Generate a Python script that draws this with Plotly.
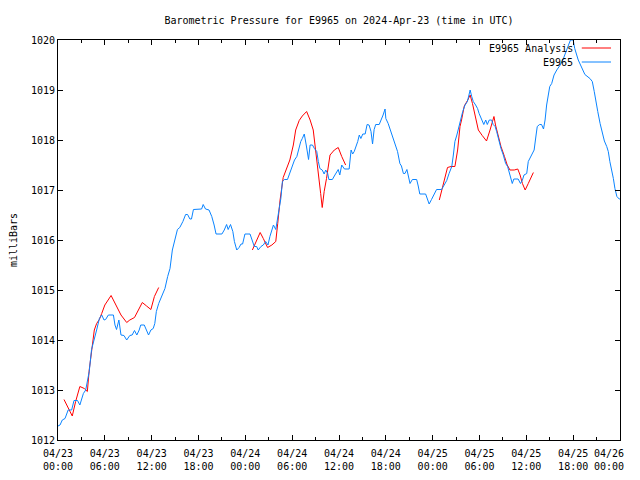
import pandas as pd
import plotly.graph_objects as go

START = "2024-04-23 00:00"
END = "2024-04-26 00:00"

# E9965 observed (hours since 2024-04-23 00:00 UTC, milliBars)
obs_hours = [0.0, 0.26, 0.55, 0.9, 1.3, 1.75, 2.05, 2.5, 2.8, 3.25, 3.55, 3.75, 4.0, 4.3, 4.6, 4.95,
             5.3, 5.6, 5.9, 6.1, 6.45, 7.1, 7.3, 7.5, 7.8, 8.07, 8.45, 8.8, 9.2, 9.5, 9.8, 10.1,
             10.4, 10.6, 11.05, 11.6, 11.9, 12.2, 12.4, 12.6, 12.9, 13.3, 13.7, 14.05, 14.35, 14.65,
             15.0, 15.3, 15.6, 16.0, 16.35, 16.6, 16.9, 17.1, 17.35, 18.4, 18.6, 18.9, 19.35, 19.7,
             20.0, 20.25, 21.0, 21.3, 21.6, 21.8, 22.1, 22.4, 22.6, 22.9, 23.2, 23.45, 23.65, 23.95,
             24.6, 24.9, 25.15, 25.45, 25.65, 26.0, 26.3, 26.6, 26.9, 27.15, 27.4, 27.6, 27.9, 28.15,
             28.35, 28.55, 28.75, 29.0, 29.4, 29.7, 30.0, 30.3, 30.6, 30.9, 31.1, 31.3, 31.55, 31.8,
             32.0, 32.1, 32.3, 32.6, 32.85, 33.15, 33.35, 33.55, 33.85, 34.1, 34.3, 34.55, 34.7,
             35.15, 35.4, 35.7, 35.9, 36.1, 36.35, 36.7, 37.3, 37.55, 37.75, 37.95, 38.2, 38.4, 38.6,
             38.8, 39.05, 39.35, 39.6, 39.85, 40.1, 40.3, 40.5, 40.7, 41.15, 41.4, 41.65, 41.9, 42.0,
             42.3, 42.65, 42.95, 43.25, 43.5, 43.8, 44.0, 44.25, 44.45, 44.7, 44.9, 45.1, 45.4, 45.95,
             46.15, 46.35, 47.1, 47.35, 47.55, 47.85, 48.2, 48.5, 49.15, 49.45, 49.8, 50.1, 50.45,
             50.65, 50.85, 51.1, 51.4, 51.6, 51.85, 52.15, 52.45, 52.65, 52.8, 53.0, 53.2, 53.5,
             53.75, 53.95, 54.25, 54.55, 54.8, 55.0, 55.25, 55.55, 55.75, 56.0, 56.2, 56.5, 56.75,
             57.05, 57.35, 57.6, 57.9, 58.2, 58.4, 58.95, 59.25, 59.5, 59.7, 60.05, 60.25, 60.45,
             60.75, 61.0, 61.25, 61.4, 61.7, 61.95, 62.2, 62.4, 62.6, 62.8, 63.0, 63.25, 63.55, 63.9,
             64.3, 64.75, 65.15, 65.5, 65.65, 66.0, 66.2, 66.65, 67.0, 67.3, 67.5, 68.15, 68.45, 68.7,
             68.9, 69.15, 69.45, 69.75, 70.0, 70.3, 70.5, 70.7, 70.9, 71.15, 71.35, 71.6, 71.9, 72.0]
obs_mb = [1012.28, 1012.30, 1012.40, 1012.43, 1012.60, 1012.60, 1012.79, 1012.79, 1012.70, 1012.93,
          1013.00, 1013.20, 1013.37, 1013.81, 1013.97, 1014.20, 1014.43, 1014.50, 1014.40, 1014.41,
          1014.50, 1014.50, 1014.30, 1014.21, 1014.40, 1014.10, 1014.09, 1014.00, 1014.09, 1014.10,
          1014.19, 1014.10, 1014.20, 1014.30, 1014.30, 1014.10, 1014.20, 1014.23, 1014.33, 1014.57,
          1014.73, 1014.87, 1015.03, 1015.27, 1015.43, 1015.80, 1016.00, 1016.21, 1016.25, 1016.37,
          1016.51, 1016.51, 1016.42, 1016.42, 1016.61, 1016.62, 1016.71, 1016.62, 1016.60, 1016.47,
          1016.30, 1016.12, 1016.12, 1016.20, 1016.31, 1016.21, 1016.31, 1016.17, 1015.97, 1015.80,
          1015.85, 1015.92, 1015.92, 1016.12, 1016.12, 1015.97, 1015.87, 1015.87, 1015.80, 1015.87,
          1015.90, 1015.97, 1015.90, 1016.07, 1016.21, 1016.30, 1016.21, 1016.43, 1016.63, 1016.83,
          1017.17, 1017.21, 1017.21, 1017.33, 1017.45, 1017.60, 1017.67, 1017.87, 1017.97, 1018.03,
          1018.12, 1017.90, 1017.73, 1017.61, 1017.90, 1017.90, 1017.83, 1017.77, 1017.57, 1017.43,
          1017.40, 1017.32, 1017.40, 1017.33, 1017.21, 1017.21, 1017.28, 1017.37, 1017.41, 1017.30,
          1017.50, 1017.42, 1017.42, 1017.80, 1017.72, 1017.77, 1017.87, 1017.97, 1018.10, 1018.03,
          1018.12, 1018.12, 1018.31, 1018.30, 1018.17, 1017.92, 1018.21, 1018.31, 1018.31, 1018.40,
          1018.50, 1018.62, 1018.43, 1018.33, 1018.17, 1018.03, 1017.90, 1017.77, 1017.53, 1017.48,
          1017.33, 1017.33, 1017.41, 1017.27, 1017.13, 1017.21, 1017.21, 1017.08, 1016.92, 1016.92,
          1016.80, 1016.72, 1016.81, 1016.92, 1017.01, 1017.01, 1017.10, 1017.19, 1017.33, 1017.47,
          1017.70, 1017.97, 1018.10, 1018.30, 1018.40, 1018.57, 1018.70, 1018.77, 1018.90, 1019.00,
          1018.87, 1018.77, 1018.70, 1018.63, 1018.53, 1018.40, 1018.31, 1018.40, 1018.31, 1018.40,
          1018.40, 1018.31, 1018.27, 1018.17, 1017.97, 1017.83, 1017.70, 1017.53, 1017.47, 1017.27,
          1017.13, 1017.22, 1017.22, 1017.13, 1017.20, 1017.30, 1017.33, 1017.57, 1017.63, 1017.70,
          1017.80, 1018.10, 1018.27, 1018.31, 1018.31, 1018.22, 1018.40, 1018.70, 1018.90, 1019.07,
          1019.13, 1019.30, 1019.40, 1019.49, 1019.63, 1019.80, 1019.93, 1020.00, 1020.00, 1019.83,
          1019.60, 1019.47, 1019.35, 1019.31, 1019.23, 1019.17, 1018.97, 1018.77, 1018.57, 1018.33,
          1018.10, 1017.98, 1017.87, 1017.77, 1017.57, 1017.43, 1017.23, 1017.03, 1016.87, 1016.82,
          1016.82]

# E9965 Analysis (three runs, separated by gaps)
ana_hours = [0.77, 1.3, 1.83, 2.26, 2.8, 3.37, 3.76, 4.0, 4.3, 4.65, 4.95, 5.3, 5.6, 6.0, 6.8, 7.4,
             8.07, 8.8, 9.2, 9.8, 10.3, 10.8, 11.35, 11.9, 12.35, 12.9, None,
             24.9, 25.35, 25.9, 26.3, 26.85, 27.4, 27.9, 28.15, 28.45, 28.85, 29.3, 29.7, 30.15,
             30.45, 30.9, 31.3, 31.85, 32.3, 32.7, 33.0, 33.4, 33.65, 33.85, 34.1, 34.4, 34.85,
             35.4, 35.9, 36.35, 36.85, None,
             48.85, 49.15, 49.6, 49.9, 50.35, 50.85, 51.2, 51.5, 51.7, 52.05, 52.5, 52.8, 53.1,
             53.4, 53.85, 54.35, 54.9, 55.35, 55.85, 56.05, 56.4, 56.75, 57.2, 57.55, 57.9, 58.45,
             58.9, 59.2, 59.5, 59.85, 60.25, 60.6, 60.9]
ana_mb = [1012.81, 1012.63, 1012.48, 1012.77, 1013.07, 1013.03, 1012.97, 1013.40, 1013.73, 1014.20,
          1014.33, 1014.41, 1014.53, 1014.70, 1014.89, 1014.70, 1014.50, 1014.35, 1014.40, 1014.45,
          1014.60, 1014.75, 1014.68, 1014.61, 1014.87, 1015.05, None,
          1015.80, 1015.97, 1016.15, 1016.03, 1015.85, 1015.90, 1015.97, 1016.33, 1016.80, 1017.25,
          1017.43, 1017.60, 1017.90, 1018.20, 1018.39, 1018.48, 1018.57, 1018.40, 1018.20, 1017.83,
          1017.30, 1016.93, 1016.65, 1016.97, 1017.23, 1017.70, 1017.80, 1017.85, 1017.67, 1017.50,
          None,
          1016.80, 1017.00, 1017.25, 1017.45, 1017.47, 1017.47, 1017.80, 1018.27, 1018.40, 1018.68,
          1018.80, 1018.90, 1018.73, 1018.51, 1018.20, 1018.09, 1017.98, 1018.20, 1018.47, 1018.30,
          1018.10, 1017.87, 1017.67, 1017.50, 1017.40, 1017.40, 1017.42, 1017.30, 1017.13, 1017.00,
          1017.13, 1017.25, 1017.35]

RED = "#ff0000"
BLUE = "#0a84ff"
FONT = "DejaVu Sans Mono"

t0 = pd.Timestamp(START)


def to_time(hours):
    return [None if h is None else t0 + pd.Timedelta(hours=h) for h in hours]


# 6-hourly major tick labels, two lines; the edge label is drawn separately, pulled inside
tick_times = pd.date_range(START, END, freq="6h")
tick_text = [t.strftime("%m/%d<br>%H:%M") for t in tick_times]
edge_label = tick_text[-1]
tick_text[-1] = ""

fig = go.Figure()
fig.add_trace(go.Scatter(x=to_time(ana_hours), y=ana_mb, mode="lines", name="E9965 Analysis",
                         line=dict(color=RED, width=1), connectgaps=False))
fig.add_trace(go.Scatter(x=to_time(obs_hours), y=obs_mb, mode="lines", name="E9965",
                         line=dict(color=BLUE, width=1)))

axis_common = dict(showline=True, linecolor="black", linewidth=1, mirror="allticks",
                   ticks="inside", tickcolor="black", showgrid=False, zeroline=False,
                   automargin=False, tickfont=dict(family=FONT, size=10, color="black"))

fig.update_xaxes(type="date", range=[START, END],
                 tickmode="array", tickvals=list(tick_times), ticktext=tick_text,
                 ticklen=5, ticklabelstandoff=4,
                 minor=dict(tickmode="linear", tick0=START, dtick=3 * 3600 * 1000,
                            ticks="inside", ticklen=3, tickcolor="black", showgrid=False),
                 **axis_common)
fig.update_yaxes(range=[1012, 1020], dtick=1, ticklen=5,
                 title=dict(text="milliBars", font=dict(family=FONT, size=10, color="black"),
                            standoff=16),
                 **axis_common)

fig.add_annotation(x=tick_times[-1], xref="x", y=0, yref="paper", text=edge_label,
                   showarrow=False, xanchor="right", yanchor="top", align="center",
                   xshift=6, yshift=-6, font=dict(family=FONT, size=10, color="black"))

# legend, drawn gnuplot-style (text right-aligned, sample line to its right)
legend_items = [("E9965 Analysis", RED, 0.98), ("E9965", BLUE, 0.945)]
for label, color, yy in legend_items:
    fig.add_annotation(x=0.92, y=yy, xref="paper", yref="paper", text=label, showarrow=False,
                       xanchor="right", yanchor="middle",
                       font=dict(family=FONT, size=10, color="black"))
    fig.add_shape(type="line", xref="paper", yref="paper", x0=0.932, x1=0.984, y0=yy, y1=yy,
                  line=dict(color=color, width=1))

# page body adds an 8px offset; margins compensate so the plot area sits at 58..620 x 40..440
fig.update_layout(
    width=640, height=480,
    margin=dict(l=50, r=28, t=32, b=48),
    paper_bgcolor="white", plot_bgcolor="white",
    showlegend=False,
    title=dict(text="Barometric Pressure for E9965 on 2024-Apr-23 (time in UTC)",
               x=0.5, xref="paper", xanchor="center", y=1 - 12 / 480, yref="container",
               yanchor="middle", font=dict(family=FONT, size=10, color="black")),
    font=dict(family=FONT, size=10, color="black"),
)

fig.write_html("out.html")
